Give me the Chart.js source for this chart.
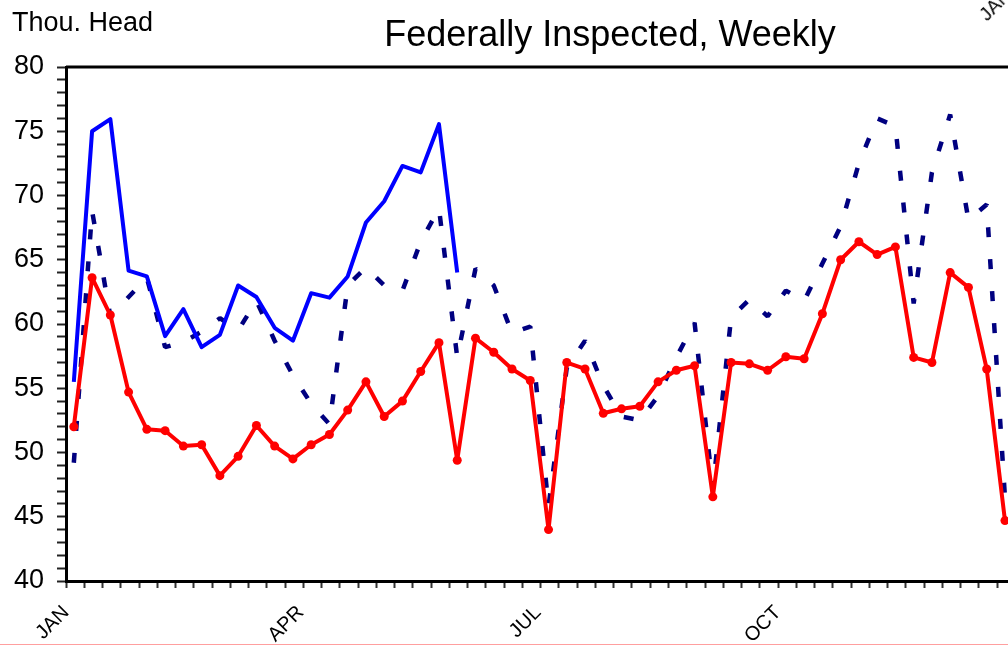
<!DOCTYPE html>
<html>
<head>
<meta charset="utf-8">
<script src="https://cdn.jsdelivr.net/npm/chart.js@4.4.0/dist/chart.umd.min.js"></script>
<style>
    body { margin: 0; width: 1008px; height: 645px; overflow: hidden; position: relative; background: #fff; font-family: "Liberation Sans", Arial, sans-serif; }
    #wrap { position: absolute; left: 0; top: 0; width: 1040px; height: 645px; }
    .unit { position: absolute; left: 12px; top: 9px; font-size: 27px; line-height: 27px; white-space: nowrap; }
    .title { position: absolute; left: 610px; top: 16px; transform: translateX(-50%); font-size: 36px; line-height: 36px; white-space: nowrap; }
    .corner { position: absolute; left: 989px; top: 5px; font-size: 19px; line-height: 19px; transform-origin: 0 100%; transform: rotate(-45deg); }
    .edge { position: absolute; left: 0; top: 644px; width: 1008px; height: 1px; background: #ff9f9f; }
</style>
</head>
<body>
<div id="wrap"><canvas id="chart" width="1040" height="645"></canvas></div>
<div class="unit">Thou. Head</div>
<div class="title">Federally Inspected, Weekly</div>
<div class="corner">JAN</div>
<div class="edge"></div>
<script>
// --- DATA ---
const weeks = Array.from({ length: 52 }, (_, i) => i + 1);
const monthLabels = ['JAN', 'APR', 'JUL', 'OCT'];
const monthDays = [0, 90, 181, 273];

// solid red with markers
const avgSeries = [52.0, 63.6, 60.7, 54.7, 51.8, 51.7, 50.5, 50.6, 48.2, 49.7, 52.1, 50.5, 49.5,
    50.6, 51.4, 53.3, 55.5, 52.8, 54.0, 56.3, 58.55, 49.4, 58.9, 57.8, 56.5, 55.6,
    44.0, 57.0, 56.5, 53.05, 53.4, 53.6, 55.5, 56.4, 56.75, 46.55, 57.0, 56.9, 56.4,
    57.45, 57.3, 60.8, 65.0, 66.4, 65.4, 66.0, 57.4, 57.0, 64.0, 62.85, 56.5, 44.7];

// solid blue, current year (partial)
const currentSeries = [55.5, 75.0, 75.95, 64.15, 63.7, 59.05, 61.15, 58.2, 59.15, 63.0, 62.1,
    59.7, 58.7, 62.4, 62.05, 63.7, 67.9, 69.55, 72.3, 71.8, 75.55, 64.0];

// dashed navy, previous year
const lastYearSeries = [49.2, 68.8, 60.6, 62.1, 63.6, 58.2, 58.6, 59.4, 60.45, 59.5, 61.8, 58.7, 56.0,
    53.8, 52.2, 63.0, 64.4, 63.0, 62.6, 66.4, 69.0, 57.4, 64.3, 63.0, 59.3, 59.8,
    45.8, 56.6, 58.7, 55.2, 52.8, 52.5, 54.4, 57.4, 60.1, 47.2, 60.5, 61.9, 60.6,
    62.6, 61.8, 64.7, 67.6, 72.5, 76.0, 75.4, 61.6, 71.8, 76.3, 68.1, 69.3, 46.5];

const FONT = '"Liberation Sans", Arial, sans-serif';

// day of year for a given week (mid-week point)
function weekDay(w) {
    return (w - 1) * 7 + 3;
}

function toPoints(values) {
    return values.map((v, i) => ({ x: weekDay(weeks[i]), y: v }));
}

// frame: top and right edge of the plot area
const framePlugin = {
    id: 'frame',
    afterDraw(chart) {
        const { ctx, chartArea: a } = chart;
        ctx.save();
        ctx.strokeStyle = '#000';
        ctx.lineWidth = 3;
        ctx.beginPath();
        ctx.moveTo(a.left, a.top);
        ctx.lineTo(a.right, a.top);
        ctx.lineTo(a.right, a.bottom);
        ctx.stroke();
        ctx.restore();
    }
};

const ctx = document.getElementById('chart').getContext('2d');

new Chart(ctx, {
    type: 'line',
    data: {
        datasets: [{
            label: 'Average',
            data: toPoints(avgSeries),
            borderColor: '#ff0000',
            backgroundColor: '#ff0000',
            borderWidth: 4,
            borderJoinStyle: 'round',
            pointRadius: 4.5,
            pointBorderWidth: 0,
            tension: 0
        }, {
            label: 'Current',
            data: toPoints(currentSeries),
            borderColor: '#0000ff',
            borderWidth: 4,
            borderJoinStyle: 'round',
            pointRadius: 0,
            tension: 0
        }, {
            label: 'Last year',
            data: toPoints(lastYearSeries),
            borderColor: '#000080',
            borderWidth: 4.5,
            borderDash: [10, 22],
            borderJoinStyle: 'bevel',
            pointRadius: 0,
            tension: 0
        }]
    },
    options: {
        responsive: false,
        animation: false,
        layout: { padding: { top: 67, right: 22, left: 0, bottom: 0 } },
        plugins: {
            legend: { display: false },
            tooltip: { enabled: false }
        },
        scales: {
            x: {
                type: 'linear',
                min: 0,
                max: 365,
                afterBuildTicks: (scale) => {
                    const vals = new Set(weeks.map(w => (w - 1) * 7).concat(monthDays));
                    scale.ticks = [...vals].sort((a, b) => a - b).map(v => ({ value: v }));
                },
                afterFit: (scale) => { scale.height = 64; },
                ticks: {
                    autoSkip: false,
                    minRotation: 45,
                    maxRotation: 45,
                    padding: 13,
                    color: '#000',
                    font: { family: FONT, size: 20 },
                    callback: (value) => {
                        const i = monthDays.indexOf(value);
                        return i >= 0 ? monthLabels[i] : '';
                    }
                },
                grid: {
                    drawOnChartArea: false,
                    tickLength: 7,
                    tickWidth: 2,
                    tickColor: (c) => (c.tick && c.tick.value % 7 !== 0) ? 'rgba(0,0,0,0)' : '#333'
                },
                border: { display: true, width: 3, color: '#000' }
            },
            y: {
                min: 40,
                max: 80,
                afterFit: (scale) => { scale.width = 66; },
                ticks: {
                    stepSize: 1,
                    autoSkip: false,
                    padding: 13,
                    color: '#000',
                    font: { family: FONT, size: 27 },
                    callback: (value) => value % 5 === 0 ? value : ''
                },
                grid: {
                    drawOnChartArea: false,
                    tickLength: 9,
                    tickWidth: 2,
                    tickColor: '#222'
                },
                border: { display: true, width: 3, color: '#000' }
            }
        }
    },
    plugins: [framePlugin]
});
</script>
</body>
</html>
